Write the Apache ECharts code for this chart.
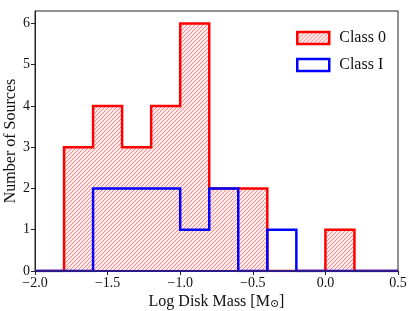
<!DOCTYPE html>
<html><head><meta charset="utf-8">
<script src="https://cdn.jsdelivr.net/npm/echarts@6/dist/echarts.min.js"></script>
<style>html,body{margin:0;padding:0;background:#fff}#c{width:415px;height:311px}</style>
</head><body><div id="c"></div>
<script>
// Bin edges (log disk mass) and counts per bin starting at that edge
const binEdges = [-2.0, -1.8, -1.6, -1.4, -1.2, -1.0, -0.8, -0.6, -0.4, -0.2, 0.0, 0.2, 0.5];
const class0Counts = [0, 3, 4, 3, 4, 6, 2, 2, 0, 0, 1, 0, 0];
const classICounts = [0, 0, 2, 2, 2, 1, 2, 0, 1, 0, 0, 0, 0];
const xTicks = [-2.0, -1.5, -1.0, -0.5, 0.0, 0.5];
const yTicks = [0, 1, 2, 3, 4, 5, 6];
const seriesNames = ['Class 0', 'Class I'];

const FONT = '"Liberation Serif", "DejaVu Serif", serif';

// hatch pattern
const pc = document.createElement('canvas');
pc.width = 4; pc.height = 4;
const g = pc.getContext('2d');
g.fillStyle = 'rgba(255,120,120,0.15)';
g.fillRect(0, 0, 4, 4);
g.strokeStyle = 'rgba(255,30,30,0.5)';
g.lineWidth = 1;
g.beginPath();
g.moveTo(-1, 5); g.lineTo(5, -1);
g.moveTo(-5, 5); g.lineTo(1, -1);
g.moveTo(3, 5); g.lineTo(9, -1);
g.stroke();
const hatch = { image: pc, repeat: 'repeat' };

const d0 = binEdges.map((x, i) => [x, class0Counts[i]]);
const d1 = binEdges.map((x, i) => [x, classICounts[i]]);

const chart = echarts.init(document.getElementById('c'), null, { renderer: 'canvas' });
chart.setOption({
  animation: false,
  textStyle: { fontFamily: FONT },
  grid: { left: 35, right: 17, top: 11, bottom: 40, containLabel: false, outerBoundsMode: 'none',
    show: true, borderColor: '#222', borderWidth: 1, backgroundColor: 'transparent' },
  legend: {
    orient: 'vertical', left: 291, top: 25, itemWidth: 32, itemHeight: 12, itemGap: 11,
    textStyle: { fontFamily: FONT, fontSize: 16, color: '#111', padding: [0, 0, 0, 5] },
    data: [
      { name: seriesNames[0], icon: 'rect', itemStyle: { color: hatch, borderColor: '#ff0000', borderWidth: 2.5 } },
      { name: seriesNames[1], icon: 'rect', itemStyle: { color: '#ffffff', borderColor: '#0000ff', borderWidth: 2.5 } }
    ]
  },
  xAxis: {
    type: 'value', min: -2.0, max: 0.5, interval: 0.5,
    name: 'Log Disk Mass [M{s|⊙}]', nameLocation: 'middle', nameGap: 22, nameMoveOverlap: false,
    nameTextStyle: { fontFamily: FONT, fontSize: 16, color: '#111', rich: { s: { fontFamily: FONT, fontSize: 11, color: '#111', verticalAlign: 'bottom', padding: [6, 0, 0, 0] } } },
    splitLine: { show: false },
    axisLine: { show: true, onZero: false, lineStyle: { color: '#222', width: 1 } },
    axisTick: { show: true, inside: false, length: 4, lineStyle: { color: '#222' }, customValues: xTicks },
    axisLabel: { customValues: xTicks, fontFamily: FONT, fontSize: 14, color: '#111', margin: 5,
      formatter: v => (v < -1e-9 ? '\u2212' : '') + Math.abs(v).toFixed(1) }
  },
  yAxis: {
    type: 'value', min: 0, max: 6.3, interval: 1,
    name: 'Number of Sources', nameLocation: 'middle', nameGap: 16, nameMoveOverlap: false,
    nameTextStyle: { fontFamily: FONT, fontSize: 16, color: '#111' },
    splitLine: { show: false },
    axisLine: { show: true, onZero: false, lineStyle: { color: '#222', width: 1 } },
    axisTick: { show: true, inside: false, length: 4, lineStyle: { color: '#222' }, customValues: yTicks },
    axisLabel: { customValues: yTicks, fontFamily: FONT, fontSize: 14, color: '#111', margin: 5,
      formatter: v => String(Math.round(v)) }
  },
  series: [
    { name: seriesNames[0], type: 'line', step: 'end', data: d0, symbol: 'none', z: 2,
      itemStyle: { color: '#ff0000' },
      lineStyle: { color: '#ff0000', width: 2.5, join: 'miter' },
      areaStyle: { color: hatch, origin: 0, opacity: 1 } },
    { name: seriesNames[1], type: 'line', step: 'end', data: d1, symbol: 'none', z: 3,
      itemStyle: { color: '#0000ff' },
      lineStyle: { color: '#0000ff', width: 2.5, join: 'miter' } },
    { name: 'baseline', type: 'line', data: [[binEdges[0], 0], [binEdges[binEdges.length - 1], 0]],
      symbol: 'none', z: 4, silent: true, tooltip: { show: false },
      lineStyle: { color: '#2a1a8a', width: 2 } }
  ]
});
</script></body></html>
